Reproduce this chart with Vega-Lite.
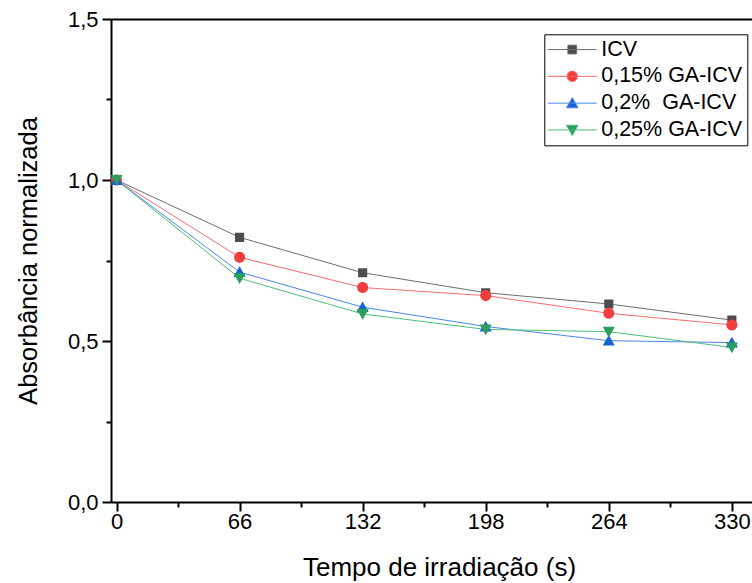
{
  "$schema": "https://vega.github.io/schema/vega-lite/v6.json",
  "width": 641,
  "height": 483,
  "autosize": {"type": "none"},
  "padding": {"left": 111, "top": 19, "right": 0, "bottom": 81},
  "background": "white",
  "config": {
    "view": {"stroke": null},
    "font": "Liberation Sans",
    "axis": {"grid": false, "domainColor": "black", "domainWidth": 2, "tickColor": "black", "tickWidth": 2, "labelColor": "black", "titleColor": "black", "labelFont": "Liberation Sans", "titleFont": "Liberation Sans", "titleFontWeight": "normal"}
  },
  "data": {
    "values": [
      {"s": "ICV", "t": 0, "a": 1.0},
      {"s": "ICV", "t": 66, "a": 0.822},
      {"s": "ICV", "t": 132, "a": 0.712},
      {"s": "ICV", "t": 198, "a": 0.650},
      {"s": "ICV", "t": 264, "a": 0.615},
      {"s": "ICV", "t": 330, "a": 0.565},
      {"s": "0,15% GA-ICV", "t": 0, "a": 1.0},
      {"s": "0,15% GA-ICV", "t": 66, "a": 0.760},
      {"s": "0,15% GA-ICV", "t": 132, "a": 0.666},
      {"s": "0,15% GA-ICV", "t": 198, "a": 0.641},
      {"s": "0,15% GA-ICV", "t": 264, "a": 0.586},
      {"s": "0,15% GA-ICV", "t": 330, "a": 0.550},
      {"s": "0,2%\u00a0 GA-ICV", "t": 0, "a": 1.0},
      {"s": "0,2%\u00a0 GA-ICV", "t": 66, "a": 0.714},
      {"s": "0,2%\u00a0 GA-ICV", "t": 132, "a": 0.605},
      {"s": "0,2%\u00a0 GA-ICV", "t": 198, "a": 0.545},
      {"s": "0,2%\u00a0 GA-ICV", "t": 264, "a": 0.501},
      {"s": "0,2%\u00a0 GA-ICV", "t": 330, "a": 0.495},
      {"s": "0,25% GA-ICV", "t": 0, "a": 1.0},
      {"s": "0,25% GA-ICV", "t": 66, "a": 0.695},
      {"s": "0,25% GA-ICV", "t": 132, "a": 0.584},
      {"s": "0,25% GA-ICV", "t": 198, "a": 0.536},
      {"s": "0,25% GA-ICV", "t": 264, "a": 0.529},
      {"s": "0,25% GA-ICV", "t": 330, "a": 0.480}
    ]
  },
  "resolve": {"axis": {"x": "independent"}},
  "layer": [
    {
      "mark": {"type": "line", "strokeWidth": 1},
      "encoding": {
        "x": {
          "field": "t", "type": "quantitative",
          "scale": {"domain": [-2.95, 340.8], "nice": false, "zero": false},
          "axis": {
            "orient": "bottom",
            "values": [0, 33, 66, 99, 132, 165, 198, 231, 264, 297, 330],
            "labelExpr": "datum.value % 66 === 0 ? datum.label : ''",
            "format": "d",
            "tickSize": {"condition": {"test": "datum.value % 66 === 0", "value": 9}, "value": 5},
            "labelFontSize": 22,
            "labelPadding": 0,
            "title": "Tempo de irradiação (s)",
            "titleFontSize": 26,
            "titlePadding": 22,
            "titleX": 328
          }
        },
        "y": {
          "field": "a", "type": "quantitative",
          "scale": {"domain": [0, 1.5], "nice": false, "zero": true},
          "axis": {
            "values": [0, 0.25, 0.5, 0.75, 1.0, 1.25, 1.5],
            "labelExpr": "(datum.value * 2) % 1 === 0 ? replace(format(datum.value, '.1f'), '.', ',') : ''",
            "tickSize": {"condition": {"test": "(datum.value * 2) % 1 === 0", "value": 9}, "value": 5},
            "labelFontSize": 22,
            "labelPadding": 4,
            "title": "Absorbância normalizada",
            "titleFontSize": 25.5,
            "titlePadding": 26
          }
        },
        "detail": {"field": "s"},
        "stroke": {
          "field": "s", "type": "nominal",
          "scale": {"domain": ["ICV", "0,15% GA-ICV", "0,2%\u00a0 GA-ICV", "0,25% GA-ICV"], "range": ["#6e6e6e", "#f56b6b", "#4a86e6", "#4cbf78"]}
        }
      }
    },
    {
      "mark": {"type": "point", "filled": true, "opacity": 1, "size": 110},
      "encoding": {
        "x": {
          "field": "t", "type": "quantitative",
          "axis": {"orient": "top", "ticks": false, "labels": false, "title": null, "domainWidth": 2}
        },
        "y": {"field": "a", "type": "quantitative"},
        "fill": {
          "field": "s", "type": "nominal",
          "scale": {"domain": ["ICV", "0,15% GA-ICV", "0,2%\u00a0 GA-ICV", "0,25% GA-ICV"], "range": ["#4d4d4d", "#f23d3d", "#1862d8", "#2b9e5c"]}
        },
        "shape": {
          "field": "s", "type": "nominal",
          "scale": {
            "domain": ["ICV", "0,15% GA-ICV", "0,2%\u00a0 GA-ICV", "0,25% GA-ICV"],
            "range": [
              "M-4.9,0H4.9M-0.87,-0.87H0.87V0.87H-0.87Z",
              "M-4.9,0H4.9M1.05,0A1.05,1.05,0,1,1,-1.05,0A1.05,1.05,0,1,1,1.05,0Z",
              "M-4.9,0H4.9M0,-1.1L1.15,0.93H-1.15Z",
              "M-4.9,0H4.9M0,1.1L1.15,-0.93H-1.15Z"
            ]
          },
          "legend": {
            "title": null,
            "orient": "none",
            "legendX": 433.3,
            "legendY": 15.3,
            "padding": 4.5,
            "strokeColor": "black",
            "fillColor": "white",
            "labelFontSize": 21.5,
            "labelFont": "Liberation Sans",
            "labelColor": "black",
            "rowPadding": 3.8,
            "symbolSize": 100,
            "symbolStrokeWidth": 1,
            "symbolOffset": 12.7,
            "labelOffset": 18.2
          }
        }
      }
    }
  ]
}
